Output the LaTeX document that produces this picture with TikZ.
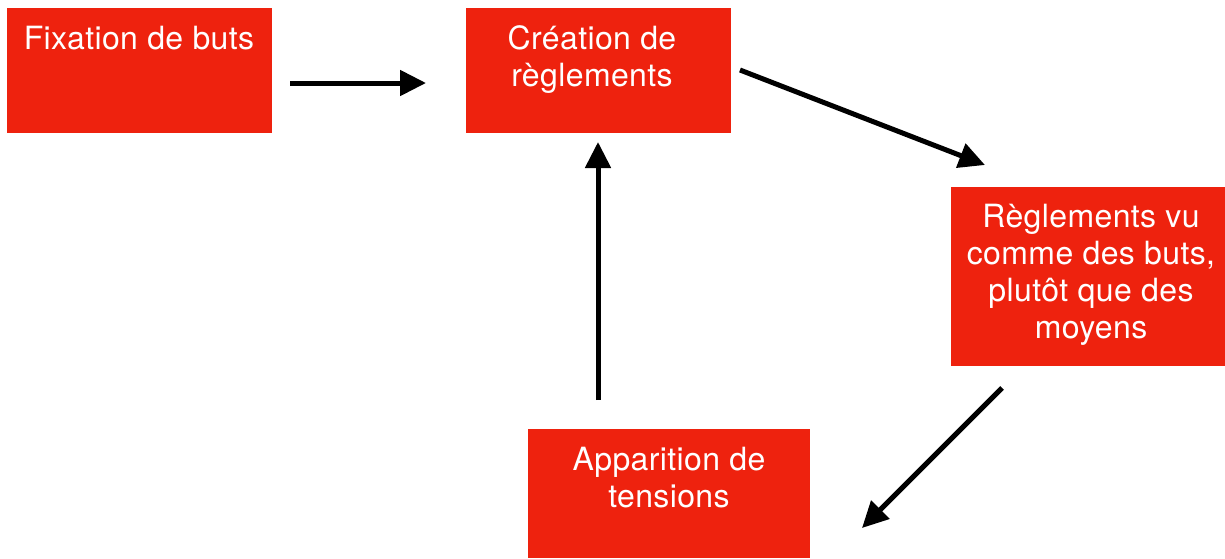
\documentclass[tikz,border=0pt]{standalone}
\usepackage{fontspec}
\setmainfont[LetterSpace=1.2]{TeX Gyre Heros}
\usetikzlibrary{arrows.meta}
\definecolor{boxred}{RGB}{238,34,14}
\begin{document}
\begin{tikzpicture}[x=1pt,y=-1pt,
  redbox/.style={draw=none,fill=boxred,inner sep=0pt,outer sep=0pt},
  boxtext/.style={anchor=north,inner sep=0pt,text=white,align=center,font=\fontsize{32}{37}\selectfont},
  flow/.style={draw=black,line width=5pt,-{Triangle[length=26pt,width=25pt]}}]
\useasboundingbox (0,0) rectangle (1225,558);
\fill[white] (0,0) rectangle (1225,558);
% boxes
\node[redbox,minimum width=265pt,minimum height=125pt] (b1) at (139.5,70.5) {};
\node[redbox,minimum width=265pt,minimum height=125pt] (b2) at (598.5,70.5) {};
\node[redbox,minimum width=274pt,minimum height=179pt] (b3) at (1088,276.5) {};
\node[redbox,minimum width=282pt,minimum height=129pt] (b4) at (669,493.5) {};
% texts
\node[boxtext] (t1) at (139,21) {\rule{0pt}{28pt}Fixation de buts};
\node[boxtext] (t2) at (592,21) {\rule{0pt}{28pt}Création de\\règlements};
\node[boxtext] (t3) at (1091,199) {\rule{0pt}{28pt}Règlements vu\\comme des buts,\\plutôt que des\\moyens};
\node[boxtext] (t4) at (669,442) {\rule{0pt}{28pt}Apparition de\\tensions};
% connector ends
\coordinate (a1s) at (290,83);
\coordinate (a1e) at (426,83);
\coordinate (a2s) at (740,70);
\coordinate (a2e) at (985,165);
\coordinate (a3s) at (1002,388);
\coordinate (a3e) at (862,528);
\coordinate (a4s) at (598,400);
\coordinate (a4e) at (598,142);
\draw[flow] (a1s) -- (a1e);
\draw[flow] (a2s) -- (a2e);
\draw[flow] (a3s) -- (a3e);
\draw[flow] (a4s) -- (a4e);
\end{tikzpicture}
\end{document}
